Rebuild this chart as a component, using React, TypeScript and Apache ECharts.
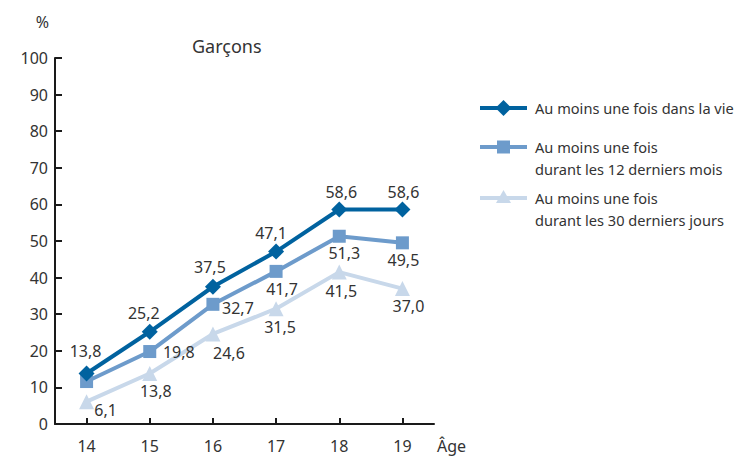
import React, { useEffect, useRef } from "react";
import * as echarts from "echarts";

const ages = ["14", "15", "16", "17", "18", "19"];
const lifetime = [13.8, 25.2, 37.5, 47.1, 58.6, 58.6];
const last12Months = [11.6, 19.8, 32.7, 41.7, 51.3, 49.5];
const last30Days = [6.1, 13.8, 24.6, 31.5, 41.5, 37.0];
const seriesNames = [
  "Au moins une fois dans la vie",
  "Au moins une fois\ndurant les 12 derniers mois",
  "Au moins une fois\ndurant les 30 derniers jours",
];
const yTicks = [0, 10, 20, 30, 40, 50, 60, 70, 80, 90, 100];

const COLORS = ["#00629f", "#6d9bcb", "#c8d8ea"];
const TEXT = "#333333";
const FONT = "Noto Sans";

// label displacement from the point centre (style only); null = no label
const offLifetime = [[-1, -22], [-6, -19], [-3, -20], [-5, -19], [2, -18], [1, -18]];
const off12 = [null, [29, 0], [25, 4], [6, 18], [5, 17], [1, 17]];
const off30 = [[19, 8], [6, 18], [16, 19], [4, 18], [2, 19], [6, 17]];

const fmt = (v: number) => v.toFixed(1).replace(".", ",");

function buildData(values: number[], offs: any[]) {
  return values.map((v, i) => {
    const o = offs[i];
    if (!o) return { value: v, label: { show: false } };
    return {
      value: v,
      label: {
        show: true,
        position: "inside",
        offset: o,
        align: "center",
        verticalAlign: "middle",
        formatter: () => fmt(v),
        color: TEXT,
        fontSize: 16,
        fontFamily: FONT,
      },
    };
  });
}

export default function App() {
  const ref = useRef<HTMLDivElement>(null);
  useEffect(() => {
    if (!ref.current) return;
    const chart = echarts.init(ref.current, undefined, { renderer: "svg" });
    const legendX = 480;
    const legendItems = [
      { y: 108, symbol: "diamond" },
      { y: 147, symbol: "rect" },
      { y: 198, symbol: "triangle" },
    ];
    const graphic: any[] = [];
    legendItems.forEach((it, i) => {
      graphic.push({
        type: "line",
        shape: { x1: legendX, y1: it.y, x2: legendX + 47, y2: it.y },
        style: { stroke: COLORS[i], lineWidth: 4 },
      });
      const cx = legendX + 23.5;
      if (it.symbol === "diamond") {
        graphic.push({
          type: "polygon",
          shape: { points: [[cx, it.y - 8], [cx + 8, it.y], [cx, it.y + 8], [cx - 8, it.y]] },
          style: { fill: COLORS[i] },
        });
      } else if (it.symbol === "rect") {
        graphic.push({
          type: "rect",
          shape: { x: cx - 6.5, y: it.y - 6.5, width: 13, height: 13 },
          style: { fill: COLORS[i] },
        });
      } else {
        graphic.push({
          type: "polygon",
          shape: { points: [[cx, it.y - 8], [cx + 7.5, it.y + 5], [cx - 7.5, it.y + 5]] },
          style: { fill: COLORS[i] },
        });
      }
      graphic.push({
        type: "text",
        x: legendX + 55,
        y: it.y - 11,
        style: {
          text: seriesNames[i],
          fill: TEXT,
          fontSize: 14.6,
          fontFamily: FONT,
          lineHeight: 22,
          align: "left",
          verticalAlign: "top",
        },
      });
    });

    const lineSeries = (idx: number, values: number[], offs: any[], symbol: string, size: number) => ({
      type: "line",
      name: seriesNames[idx],
      data: buildData(values, offs),
      symbol,
      symbolSize: size,
      showAllSymbol: true,
      lineStyle: { color: COLORS[idx], width: 4 },
      itemStyle: { color: COLORS[idx] },
      z: 10 - idx,
    });

    chart.setOption({
      animation: false,
      textStyle: { fontFamily: FONT },
      title: {
        text: "Garçons",
        left: 187,
        top: 32,
        textStyle: { fontSize: 18, fontWeight: "normal", color: TEXT, fontFamily: FONT },
      },
      grid: { left: 55, right: 306, top: 58, bottom: 32, containLabel: false, outerBoundsMode: "none" },
      xAxis: {
        type: "category",
        data: ages,
        boundaryGap: true,
        name: "Âge",
        nameLocation: "end",
        nameGap: 3,
        nameTextStyle: {
          fontSize: 16,
          color: TEXT,
          fontFamily: FONT,
          align: "left",
          verticalAlign: "top",
          padding: [14, 0, 0, 0],
        },
        axisLine: { lineStyle: { color: "#1a1a1a", width: 2 } },
        axisTick: { show: true, inside: true, alignWithLabel: true, length: 6, lineStyle: { color: "#1a1a1a", width: 2 } },
        axisLabel: { color: TEXT, fontSize: 16, fontFamily: FONT, margin: 14 },
      },
      yAxis: {
        type: "value",
        min: yTicks[0],
        max: yTicks[yTicks.length - 1],
        interval: 10,
        name: "%",
        nameLocation: "end",
        nameGap: 28,
        nameTextStyle: { fontSize: 16, color: TEXT, fontFamily: FONT, align: "right", padding: [0, 6, 0, 0] },
        axisLine: { show: true, lineStyle: { color: "#1a1a1a", width: 2 } },
        axisTick: { show: true, inside: true, length: 7, lineStyle: { color: "#1a1a1a", width: 2 } },
        splitLine: { show: false },
        axisLabel: { color: TEXT, fontSize: 16, fontFamily: FONT, margin: 7 },
      },
      graphic,
      series: [
        lineSeries(0, lifetime, offLifetime, "diamond", 16),
        lineSeries(1, last12Months, off12, "rect", 13),
        lineSeries(2, last30Days, off30, "triangle", 15),
      ],
    });
    return () => chart.dispose();
  }, []);
  return (
    <div
      ref={ref}
      style={{ position: "absolute", left: 0, top: 0, width: 740, height: 456 }}
    />
  );
}
